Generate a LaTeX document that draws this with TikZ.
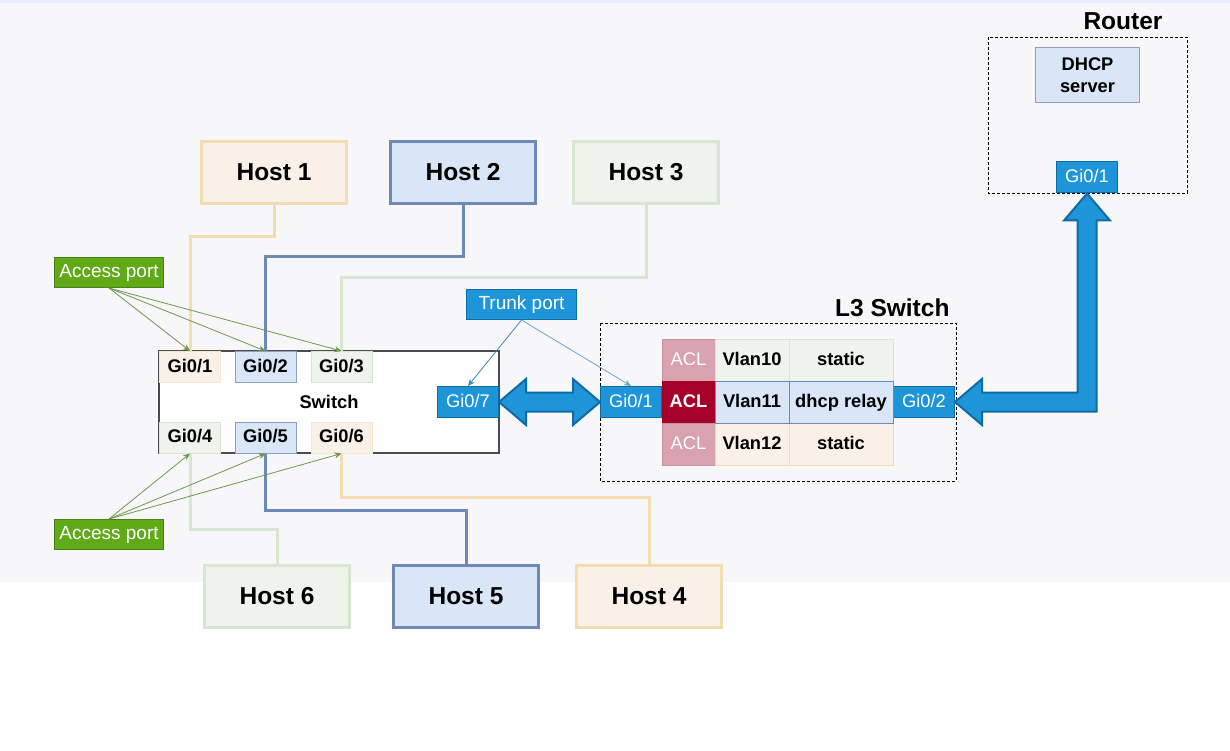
\documentclass[tikz,border=0pt]{standalone}
\usepackage{fontspec}
\setmainfont{Liberation Sans}
\usetikzlibrary{positioning,calc,arrows.meta}
\definecolor{bggray}{HTML}{F7F7F9}
\definecolor{orfill}{HTML}{F9F0E7}
\definecolor{ordraw}{HTML}{F2DDB3}
\definecolor{grfill}{HTML}{EEF3EC}
\definecolor{grdraw}{HTML}{D6E6D2}
\definecolor{blfill}{HTML}{D9E6F7}
\definecolor{bldraw}{HTML}{7088B5}
\definecolor{portblue}{HTML}{1F95D9}
\definecolor{portline}{HTML}{0E6BA8}
\definecolor{accgreen}{HTML}{60A917}
\definecolor{accline}{HTML}{4A7F1E}
\definecolor{aclpink}{HTML}{D8A2AF}
\definecolor{acldark}{HTML}{A5002A}

\begin{document}
\begin{tikzpicture}[x=1pt,y=-1pt,
    host/.style={draw, line width=3pt, minimum width=145pt, minimum height=62pt, inner sep=0pt,
        font=\fontsize{24.5}{27}\selectfont\bfseries},
    swport/.style={draw, line width=1pt, minimum width=61pt, minimum height=31pt, inner sep=0pt,
        text height=13pt, text depth=3pt, font=\fontsize{18.3}{20}\selectfont\bfseries},
    bport/.style={draw=portline, fill=portblue, line width=1pt, minimum width=61pt, minimum height=31pt,
        inner sep=0pt, text height=13pt, text depth=3pt, text=white, font=\fontsize{18.3}{20}\selectfont},
    tag/.style={line width=1pt, minimum width=109pt, minimum height=30pt, inner sep=0pt, text=white,
        text height=13pt, text depth=3pt, font=\fontsize{19}{21}\selectfont},
    cell/.style={draw, line width=1pt, minimum height=42pt, inner sep=0pt, text height=13pt, text depth=3pt,
        font=\fontsize{18.3}{20}\selectfont\bfseries},
    wire/.style={line width=3pt},
    title/.style={font=\fontsize{24.5}{27}\selectfont\bfseries},
    fatarrow/.style={draw=portline, fill=portblue, line width=2pt, line join=miter}]
\useasboundingbox (0,0) rectangle (1230,751);
% background
\fill[white] (0,0) rectangle (1230,751);
\fill[bggray] (0,0) rectangle (1230,582);
\fill[blue!8] (0,0) rectangle (1230,3);

% hosts
\node[host, draw=ordraw, fill=orfill] (h1) at (274,172.5) {Host 1};
\node[host, draw=bldraw, fill=blfill] (h2) at (463,172.5) {Host 2};
\node[host, draw=grdraw, fill=grfill] (h3) at (646,172.5) {Host 3};
\node[host, draw=grdraw, fill=grfill] (h6) at (277,596) {Host 6};
\node[host, draw=bldraw, fill=blfill] (h5) at (466,596) {Host 5};
\node[host, draw=ordraw, fill=orfill] (h4) at (649,596) {Host 4};

% switch
\node[draw=black!70, fill=white, line width=1.2pt, minimum width=340pt, minimum height=102pt, inner sep=0pt,
    font=\fontsize{18.3}{20}\selectfont\bfseries] (sw) at (329,402) {Switch};
\node[swport, draw=ordraw!70, fill=orfill] (p1) at (190,367) {Gi0/1};
\node[swport, draw=bldraw!80, fill=blfill] (p2) at (265.5,367) {Gi0/2};
\node[swport, draw=grdraw, fill=grfill] (p3) at (341.5,367) {Gi0/3};
\node[swport, draw=grdraw, fill=grfill] (p4) at (190,437.5) {Gi0/4};
\node[swport, draw=bldraw!80, fill=blfill] (p5) at (265.5,437.5) {Gi0/5};
\node[swport, draw=ordraw!70, fill=orfill] (p6) at (341.5,437.5) {Gi0/6};
\node[bport] (p7) at (468,402) {Gi0/7};

% wires to hosts
\draw[wire, ordraw] (h1.south) -- ++(0,32) -| (p1.north);
\draw[wire, bldraw] (h2.south) -- ++(0,51) -| (p2.north);
\draw[wire, grdraw] (h3.south) -- ++(0,72) -| (p3.north);
\draw[wire, grdraw] (p4.south) -- ++(0,76) -| (h6.north);
\draw[wire, bldraw] (p5.south) -- ++(0,57) -| (h5.north);
\draw[wire, ordraw] (p6.south) -- ++(0,44) -| (h4.north);

% labels with pointers
\node[tag, draw=accline, fill=accgreen] (acc1) at (109,272.5) {Access port};
\node[tag, draw=accline, fill=accgreen] (acc2) at (109,534.5) {Access port};
\node[tag, draw=portline, fill=portblue, minimum width=110pt] (trunk) at (521.5,304.5) {Trunk port};
\foreach \p in {p1,p2,p3}
    \draw[accline!80, line width=0.8pt, -{Stealth[length=7pt,width=6pt]}] (acc1.south) -- (\p.north);
\foreach \p in {p4,p5,p6}
    \draw[accline!80, line width=0.8pt, -{Stealth[length=7pt,width=6pt]}] (acc2.north) -- (\p.south);

% L3 switch
\draw[dashed, dash pattern=on 3pt off 2pt, line width=0.8pt] (600,323) rectangle (956,481);
\node[title, anchor=south east] (l3t) at (953,320) {L3 Switch};
\node[bport] (l3p1) at (631,402) {Gi0/1};
\node[bport] (l3p2) at (924,402) {Gi0/2};
\node[cell, draw=aclpink!90!black, fill=aclpink, text=white, font=\fontsize{18.3}{20}\selectfont, minimum width=53pt] (acl1) at (688.5,360) {ACL};
\node[cell, draw=acldark, fill=acldark, text=white, minimum width=53pt] (acl2) at (688.5,402) {ACL};
\node[cell, draw=aclpink!90!black, fill=aclpink, text=white, font=\fontsize{18.3}{20}\selectfont, minimum width=53pt] (acl3) at (688.5,444) {ACL};
\node[cell, draw=grdraw, fill=grfill, minimum width=74pt] (v10) at (752,360) {Vlan10};
\node[cell, draw=grdraw, fill=grfill, minimum width=104pt] (m10) at (841,360) {static};
\node[cell, draw=ordraw, fill=orfill, minimum width=74pt] (v12) at (752,444) {Vlan12};
\node[cell, draw=ordraw, fill=orfill, minimum width=104pt] (m12) at (841,444) {static};
\node[cell, draw=bldraw, fill=blfill, minimum width=74pt] (v11) at (752,402) {Vlan11};
\node[cell, draw=bldraw, fill=blfill, minimum width=104pt] (m11) at (841,402) {dhcp relay};

\draw[portline!80, line width=0.8pt, -{Stealth[length=7pt,width=6pt]}] (trunk.south) -- (p7.north);
\draw[portline!60, line width=0.8pt, -{Stealth[length=7pt,width=6pt]}] (trunk.south) -- (l3p1.north);

% router
\draw[dashed, dash pattern=on 3pt off 2pt, line width=0.8pt] (988,37) rectangle (1187,193);
\node[title] (rt) at (1123,21) {Router};
\node[draw=bldraw!80, fill=blfill, line width=1pt, minimum width=104pt, minimum height=55pt, inner sep=0pt, align=center,
    font=\fontsize{18.3}{22}\selectfont\bfseries] (dhcp) at (1087.5,75) {DHCP\\server};
\node[bport] (rp1) at (1087,177.5) {Gi0/1};

% fat arrows
\draw[fatarrow] (p7.east) -- ($(p7.east)+(27,-23)$) -- ($(p7.east)+(27,-9.5)$) -- ($(l3p1.west)+(-27,-9.5)$)
    -- ($(l3p1.west)+(-27,-23)$) -- (l3p1.west) -- ($(l3p1.west)+(-27,23)$) -- ($(l3p1.west)+(-27,9.5)$)
    -- ($(p7.east)+(27,9.5)$) -- ($(p7.east)+(27,23)$) -- cycle;
\coordinate (crn) at (rp1.south |- l3p2.east);
\draw[fatarrow] (l3p2.east) -- ($(l3p2.east)+(27,-23)$) -- ($(l3p2.east)+(27,-9.5)$) -- ($(crn)+(-9.5,-9.5)$)
    -- ($(rp1.south)+(-9.5,27)$) -- ($(rp1.south)+(-23,27)$) -- (rp1.south) -- ($(rp1.south)+(23,27)$)
    -- ($(rp1.south)+(9.5,27)$) -- ($(crn)+(9.5,9.5)$) -- ($(l3p2.east)+(27,9.5)$) -- ($(l3p2.east)+(27,23)$) -- cycle;
\end{tikzpicture}
\end{document}
